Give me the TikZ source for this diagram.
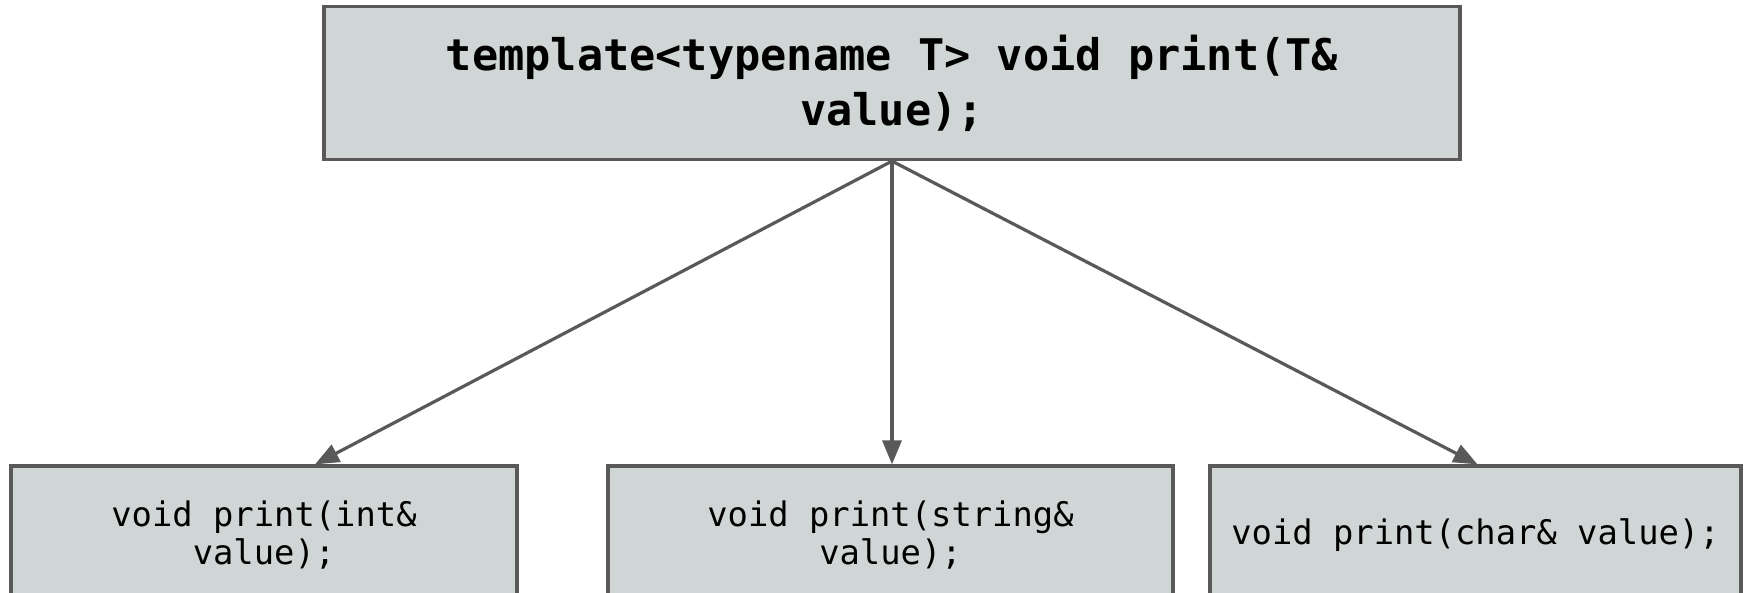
\documentclass[tikz,border=0pt]{standalone}
\usepackage{fontspec}
\setmonofont{DejaVu Sans Mono}
\usetikzlibrary{arrows.meta}
\definecolor{boxfill}{HTML}{D0D6D6}
\definecolor{boxline}{HTML}{595959}
\tikzset{
  codebox/.style={draw=boxline, fill=boxfill, line width=1.6pt, rectangle, inner sep=0pt, align=center, font=\ttfamily},
  link/.style={draw=boxline, line width=1.6pt, -{Triangle[length=12pt,width=9.5pt]}}
}
\begin{document}
\begin{tikzpicture}[x=0.5pt,y=-0.5pt]
\clip (0,0) rectangle (1744,593);
\fill[white] (0,0) rectangle (1744,593);
\node[codebox, minimum width=568pt, minimum height=76.5pt, font=\ttfamily\bfseries\fontsize{21.8pt}{27.5pt}\selectfont] (top) at (892,83) {template<typename T> void print(T\&\\value);};
\node[codebox, minimum width=253pt, minimum height=69pt, font=\ttfamily\fontsize{16.9pt}{19pt}\selectfont] (l) at (264,535) {void print(int\&\\value);};
\node[codebox, minimum width=282.5pt, minimum height=69pt, font=\ttfamily\fontsize{16.9pt}{19pt}\selectfont] (m) at (890.5,535) {void print(string\&\\value);};
\node[codebox, minimum width=265.5pt, minimum height=69pt, font=\ttfamily\fontsize{16.9pt}{19pt}\selectfont] (r) at (1475.5,535) {void print(char\& value);};
\draw[link] (top.south) -- ([xshift=25.5pt]l.north);
\draw[link] (top.south) -- (top.south |- m.north);
\draw[link] (top.south) -- ([xshift=1pt]r.north);
\end{tikzpicture}
\end{document}
